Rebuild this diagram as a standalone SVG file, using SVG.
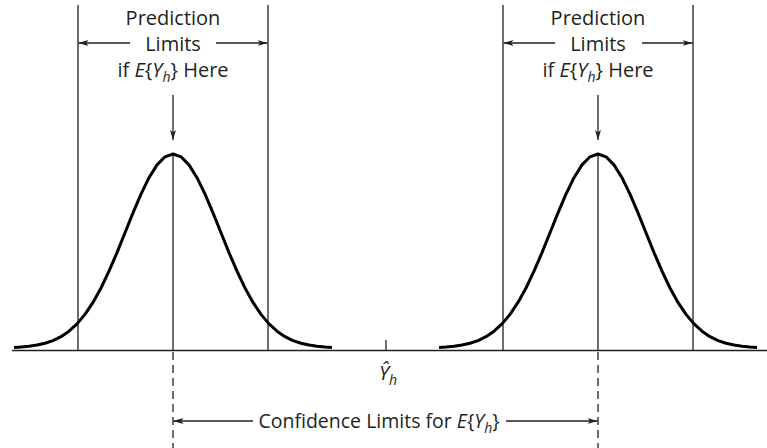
<svg xmlns="http://www.w3.org/2000/svg" width="767" height="448" viewBox="0 0 767 448">
<style>
text{font-family:"Open Sans","Liberation Sans",sans-serif;font-size:20px;fill:#231f20;text-anchor:middle}
.it{font-style:italic}
.sub{font-size:14px;font-style:italic}
.thin{stroke:#231f20;stroke-width:1.3;fill:none}
.curve{stroke:#000;stroke-width:3;fill:none;stroke-linejoin:round;stroke-linecap:butt}
.dash{stroke:#231f20;stroke-width:1.3;fill:none;stroke-dasharray:8 5}
</style>
<defs>
<marker id="ah" viewBox="0 0 10 6" refX="10" refY="3" markerWidth="10" markerHeight="6" markerUnits="userSpaceOnUse" orient="auto">
<path d="M0,0 L10,3 L0,6 L2.5,3 Z" fill="#231f20"/>
</marker>
</defs>
<g id="axis">
<line class="thin" x1="12" y1="350.5" x2="767" y2="350.5"/>
<line class="thin" x1="386" y1="340" x2="386" y2="350.5"/>
</g>
<g id="left-distribution">
<line class="thin" x1="78" y1="5" x2="78" y2="350.5"/>
<line class="thin" x1="268" y1="5" x2="268" y2="350.5"/>
<line class="thin" x1="173" y1="154" x2="173" y2="350.5"/>
<polyline class="curve" points="14,347.4 21,347 29,346.2 37,345 45,343.2 53,340.6 61,336.7 69,331.2 77,323.9 85,314.4 93,302.4 101,288 109,271.2 117,252.6 125,232.8 133,212.9 141,194.1 149,177.7 157,164.9 165,156.8 173,154 181,156.8 189,164.9 197,177.7 205,194.1 213,212.9 221,232.8 229,252.6 237,271.2 245,288 253,302.4 261,314.4 269,323.9 277,331.2 285,336.7 293,340.6 301,343.2 309,345 317,346.2 325,347 332,347.4"/>
</g>
<g id="right-distribution">
<line class="thin" x1="503" y1="5" x2="503" y2="350.5"/>
<line class="thin" x1="693" y1="5" x2="693" y2="350.5"/>
<line class="thin" x1="598" y1="154" x2="598" y2="350.5"/>
<polyline class="curve" points="439,347.4 446,347 454,346.2 462,345 470,343.2 478,340.6 486,336.7 494,331.2 502,323.9 510,314.4 518,302.4 526,288 534,271.2 542,252.6 550,232.8 558,212.9 566,194.1 574,177.7 582,164.9 590,156.8 598,154 606,156.8 614,164.9 622,177.7 630,194.1 638,212.9 646,232.8 654,252.6 662,271.2 670,288 678,302.4 686,314.4 694,323.9 702,331.2 710,336.7 718,340.6 726,343.2 734,345 742,346.2 750,347 757,347.4"/>
</g>
<g id="left-label">
<text x="173" y="25">Prediction</text>
<text x="173" y="51">Limits</text>
<text x="173" y="77">if <tspan class="it">E</tspan>{<tspan class="it">Y</tspan><tspan class="sub" dy="5">h</tspan><tspan dy="-5">}</tspan> Here</text>
</g>
<g id="right-label">
<text x="598" y="25">Prediction</text>
<text x="598" y="51">Limits</text>
<text x="598" y="77">if <tspan class="it">E</tspan>{<tspan class="it">Y</tspan><tspan class="sub" dy="5">h</tspan><tspan dy="-5">}</tspan> Here</text>
</g>
<g id="yhat-label">
<text x="388" y="380" class="it">Ŷ<tspan class="sub" dy="5">h</tspan></text>
</g>
<g id="confidence-label">
<text x="379" y="428" style="font-size:19.5px">Confidence Limits for <tspan class="it">E</tspan>{<tspan class="it">Y</tspan><tspan class="sub" dy="5">h</tspan><tspan dy="-5">}</tspan></text>
</g>
<g id="connectors">
<line class="thin" x1="130" y1="43" x2="78.5" y2="43" marker-end="url(#ah)"/>
<line class="thin" x1="216" y1="43" x2="267.5" y2="43" marker-end="url(#ah)"/>
<line class="thin" x1="555" y1="43" x2="503.5" y2="43" marker-end="url(#ah)"/>
<line class="thin" x1="642" y1="43" x2="692.5" y2="43" marker-end="url(#ah)"/>
<line class="thin" x1="173" y1="95" x2="173" y2="140" marker-end="url(#ah)"/>
<line class="thin" x1="598" y1="95" x2="598" y2="140" marker-end="url(#ah)"/>
<line class="dash" x1="173" y1="352" x2="173" y2="448"/>
<line class="dash" x1="598" y1="352" x2="598" y2="448"/>
<line class="thin" x1="253" y1="421" x2="173.5" y2="421" marker-end="url(#ah)"/>
<line class="thin" x1="506" y1="421" x2="597.5" y2="421" marker-end="url(#ah)"/>
</g>
</svg>
